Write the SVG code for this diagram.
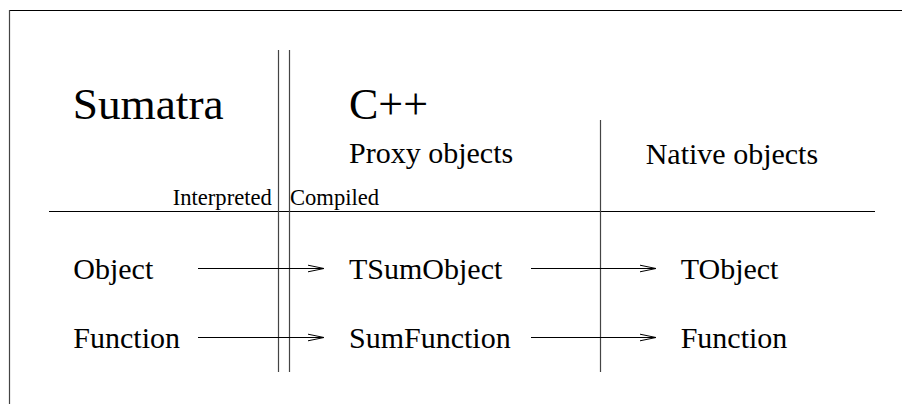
<svg xmlns="http://www.w3.org/2000/svg" width="902" height="404" viewBox="0 0 902 404">
<style>
text { font-family: "Liberation Serif", "Times New Roman", "DejaVu Serif", serif; fill: #000; }
.big { font-size: 44px; }
.mid { font-size: 30px; }
.small { font-size: 22.6px; }
.rule { stroke: #000; stroke-width: 1; fill: none; }
.sep { stroke: #444; stroke-width: 1.2; fill: none; }
.conn { stroke: #000; stroke-width: 1; fill: none; }
</style>
<defs>
<marker id="open" markerUnits="userSpaceOnUse" markerWidth="20" markerHeight="10" viewBox="-18 -5 20 10" refX="0" refY="0" orient="auto" overflow="visible">
<path d="M-16,-3.3 L0,0 L-16,3.3" stroke="#000" stroke-width="1" fill="none"/>
</marker>
</defs>
<rect width="902" height="404" fill="#fff"/>
<g id="frame">
<line class="rule" x1="9" y1="10.5" x2="902" y2="10.5"/>
<line class="sep" x1="9.5" y1="10" x2="9.5" y2="404"/>
<line class="rule" x1="49" y1="211.5" x2="875" y2="211.5"/>
<line class="sep" x1="278.5" y1="50" x2="278.5" y2="372"/>
<line class="sep" x1="289.5" y1="50" x2="289.5" y2="372"/>
<line class="sep" x1="600.5" y1="120" x2="600.5" y2="372"/>
</g>
<g id="headers" font-family="Liberation Serif, serif">
<text class="big" x="72.7" y="119" style="font-size:45.3px">Sumatra</text>
<text class="big" x="349" y="119">C++</text>
<text class="mid" x="349" y="163">Proxy objects</text>
<text class="mid" x="645.7" y="164">Native objects</text>
<text class="small" x="172.7" y="205">Interpreted</text>
<text class="small" x="290" y="205">Compiled</text>
</g>
<g id="n-object"><text class="mid" x="73.3" y="279">Object</text></g>
<g id="n-function"><text class="mid" x="73.3" y="347.5">Function</text></g>
<g id="n-tsumobject"><text class="mid" x="349" y="279">TSumObject</text></g>
<g id="n-sumfunction"><text class="mid" x="349" y="347.5">SumFunction</text></g>
<g id="n-tobject"><text class="mid" x="680.7" y="279">TObject</text></g>
<g id="n-function2"><text class="mid" x="680.7" y="347.5">Function</text></g>
<g id="connectors">
<line class="conn" x1="198" y1="268.5" x2="324" y2="268.5" marker-end="url(#open)"/>
<line class="conn" x1="198" y1="337.5" x2="324" y2="337.5" marker-end="url(#open)"/>
<line class="conn" x1="531" y1="268.5" x2="656" y2="268.5" marker-end="url(#open)"/>
<line class="conn" x1="531" y1="337.5" x2="656" y2="337.5" marker-end="url(#open)"/>
</g>
</svg>
